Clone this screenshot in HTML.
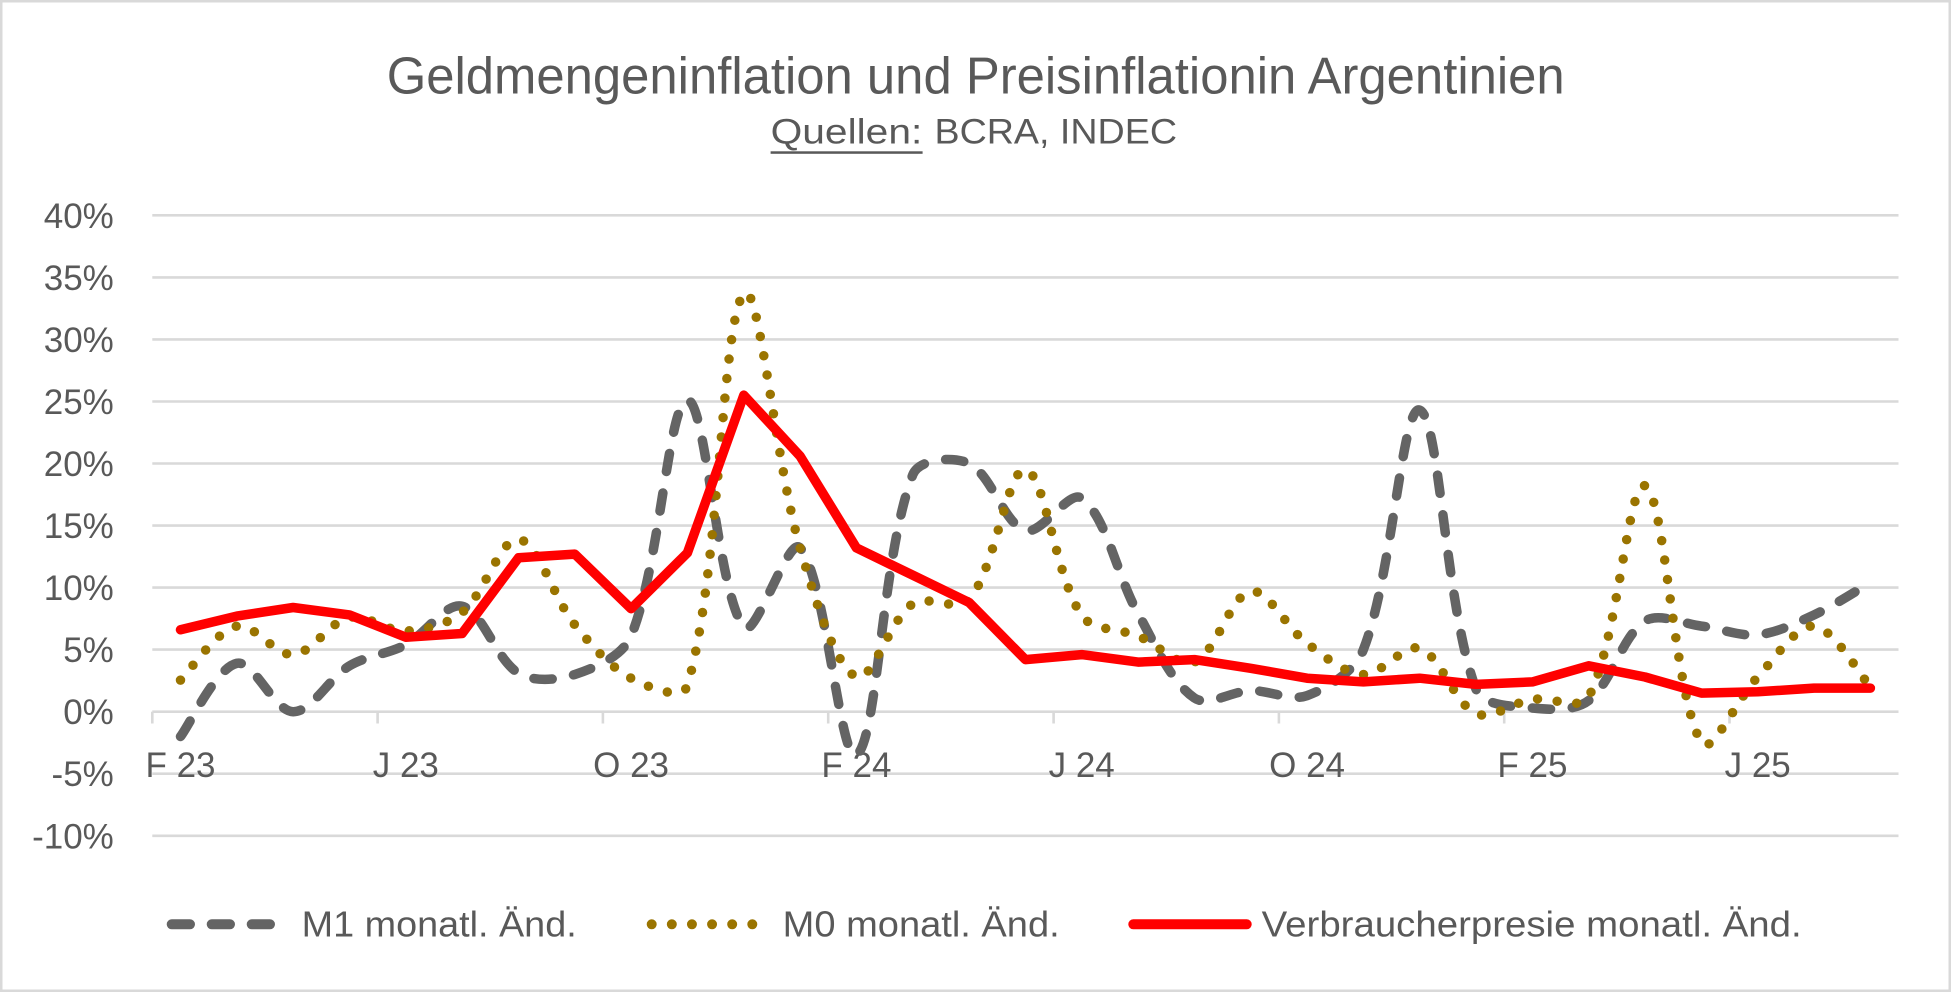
<!DOCTYPE html>
<html>
<head>
<meta charset="utf-8">
<style>
  html, body { margin: 0; padding: 0; background: #ffffff; }
  body { width: 1951px; height: 992px; overflow: hidden; }
  svg { display: block; }
  text { font-family: "Liberation Sans", Arial, sans-serif; fill: #595959; }
</style>
</head>
<body>
<svg width="1951" height="992" viewBox="0 0 1951 992" xmlns="http://www.w3.org/2000/svg">
  <rect x="0" y="0" width="1951" height="992" fill="#ffffff"/>
  <rect x="1.25" y="1.25" width="1948.5" height="989.5" fill="none" stroke="#d9d9d9" stroke-width="2.5"/>

  <!-- Title -->
  <text x="386.7" y="93.3" font-size="52" textLength="1178" lengthAdjust="spacingAndGlyphs">Geldmengeninflation und Preisinflationin Argentinien</text>
  <text x="770.6" y="143.3" font-size="35" textLength="151.7" lengthAdjust="spacingAndGlyphs">Quellen:</text>
  <rect x="770.6" y="151.3" width="152" height="2.5" fill="#595959"/>
  <text x="934.5" y="143.3" font-size="35" textLength="242.5" lengthAdjust="spacingAndGlyphs">BCRA, INDEC</text>

  <!-- Gridlines -->
  <g stroke="#d9d9d9" stroke-width="2.6">
    <line x1="152.3" y1="215.3" x2="1898.5" y2="215.3"/>
    <line x1="152.3" y1="277.4" x2="1898.5" y2="277.4"/>
    <line x1="152.3" y1="339.4" x2="1898.5" y2="339.4"/>
    <line x1="152.3" y1="401.5" x2="1898.5" y2="401.5"/>
    <line x1="152.3" y1="463.5" x2="1898.5" y2="463.5"/>
    <line x1="152.3" y1="525.6" x2="1898.5" y2="525.6"/>
    <line x1="152.3" y1="587.6" x2="1898.5" y2="587.6"/>
    <line x1="152.3" y1="649.6" x2="1898.5" y2="649.6"/>
    <line x1="152.3" y1="711.7" x2="1898.5" y2="711.7"/>
    <line x1="152.3" y1="773.7" x2="1898.5" y2="773.7"/>
    <line x1="152.3" y1="835.8" x2="1898.5" y2="835.8"/>
    <!-- ticks -->
    <line x1="152.3" y1="711.7" x2="152.3" y2="723.5"/>
    <line x1="377.6" y1="711.7" x2="377.6" y2="723.5"/>
    <line x1="602.9" y1="711.7" x2="602.9" y2="723.5"/>
    <line x1="828.2" y1="711.7" x2="828.2" y2="723.5"/>
    <line x1="1053.6" y1="711.7" x2="1053.6" y2="723.5"/>
    <line x1="1278.9" y1="711.7" x2="1278.9" y2="723.5"/>
    <line x1="1504.2" y1="711.7" x2="1504.2" y2="723.5"/>
    <line x1="1729.5" y1="711.7" x2="1729.5" y2="723.5"/>
  </g>

  <!-- Y axis labels -->
  <g font-size="35" text-anchor="end">
    <text x="113.8" y="227.8">40%</text>
    <text x="113.8" y="289.9">35%</text>
    <text x="113.8" y="351.9">30%</text>
    <text x="113.8" y="414.0">25%</text>
    <text x="113.8" y="476.0">20%</text>
    <text x="113.8" y="538.1">15%</text>
    <text x="113.8" y="600.1">10%</text>
    <text x="113.8" y="662.1">5%</text>
    <text x="113.8" y="724.2">0%</text>
    <text x="113.8" y="786.2">-5%</text>
    <text x="113.8" y="848.3">-10%</text>
  </g>

  <!-- X axis labels -->
  <g font-size="35" text-anchor="middle">
    <text x="180.5" y="777">F 23</text>
    <text x="405.8" y="777">J 23</text>
    <text x="631.1" y="777">O 23</text>
    <text x="856.4" y="777">F 24</text>
    <text x="1081.7" y="777">J 24</text>
    <text x="1307.1" y="777">O 24</text>
    <text x="1532.4" y="777">F 25</text>
    <text x="1757.7" y="777">J 25</text>
  </g>

  <!-- M1 dashed series -->
  <path fill="none" stroke="#646464" stroke-width="9.5" stroke-linecap="round" stroke-linejoin="round" stroke-dasharray="18.3 21.7"
    d="M180.5,736.5
C189.9,724.3 216.0,667.9 236.8,663.3
C253.5,659.6 274.1,711.3 293.1,711.7
C311.7,712.1 329.0,678.0 349.5,665.8
C366.5,655.7 388.2,654.0 405.8,644.7
C425.8,634.1 445.7,602.0 462.1,606.2
C483.2,611.6 495.7,659.4 518.5,673.2
C533.2,682.2 557.8,680.1 574.8,674.5
C595.4,667.7 622.8,656.1 631.1,636.0
C660.4,564.7 668.3,401.7 687.4,400.2
C705.8,398.8 717.3,592.6 743.8,627.3
C754.8,641.8 788.4,534.6 800.1,547.9
C825.9,577.2 840.3,765.6 856.4,755.1
C877.8,741.2 881.5,555.6 912.8,474.7
C919.1,458.4 954.2,456.1 969.1,463.5
C991.8,474.7 1003.8,523.9 1025.4,530.5
C1041.4,535.5 1069.1,488.9 1081.7,498.2
C1106.6,516.7 1117.1,576.4 1138.1,613.7
C1154.7,643.0 1170.3,681.6 1194.4,698.0
C1207.9,707.3 1231.9,691.0 1250.7,690.6
C1269.4,690.2 1290.7,701.5 1307.1,695.6
C1328.2,687.9 1354.8,671.3 1363.4,649.6
C1392.4,576.2 1402.3,404.0 1419.7,410.1
C1439.9,417.2 1445.0,607.2 1476.1,689.4
C1482.6,706.4 1513.2,706.1 1532.4,708.0
C1550.8,709.8 1574.9,711.2 1588.7,700.5
C1612.4,682.2 1621.3,636.8 1645.0,621.1
C1658.8,612.0 1682.7,623.8 1701.4,626.1
C1720.3,628.4 1739.4,636.6 1757.7,634.8
C1776.9,632.8 1796.0,623.2 1814.0,614.9
C1833.6,605.9 1861.0,588.0 1870.4,582.6"/>

  <!-- M0 dotted series -->
  <path fill="none" stroke="#9a7400" stroke-width="9.5" stroke-linecap="round" stroke-linejoin="round" stroke-dasharray="0 19.6"
    d="M180.5,680.1
C189.9,671.1 216.0,630.8 236.8,626.1
C253.6,622.3 275.0,656.0 293.1,654.6
C312.5,653.1 329.3,621.6 349.5,617.4
C366.8,613.7 387.3,631.9 405.8,631.0
C424.8,630.2 447.4,624.4 462.1,612.4
C485.0,593.8 500.7,537.2 518.5,539.2
C538.3,541.4 553.4,598.5 574.8,624.8
C591.0,644.8 609.4,666.5 631.1,678.2
C647.0,686.8 682.7,701.7 687.4,685.6
C720.3,573.4 721.2,321.2 743.8,293.5
C758.7,275.3 775.7,464.9 800.1,547.9
C813.3,592.7 833.7,665.7 856.4,677.0
C871.3,684.3 889.5,619.7 912.8,603.7
C927.0,594.0 958.4,612.7 969.1,600.0
C995.9,568.1 1007.5,467.2 1025.4,469.7
C1045.1,472.4 1054.6,575.4 1081.7,615.5
C1092.1,630.9 1119.7,628.4 1138.1,636.0
C1157.2,643.9 1179.1,668.1 1194.4,662.1
C1216.7,653.2 1230.4,594.7 1250.7,591.3
C1267.9,588.5 1286.7,628.4 1307.1,643.4
C1324.2,656.1 1344.3,673.6 1363.4,674.5
C1381.8,675.3 1404.0,642.9 1419.7,648.4
C1441.5,656.0 1453.7,703.4 1476.1,713.6
C1491.2,720.4 1513.4,702.1 1532.4,699.3
C1550.9,696.5 1581.0,711.4 1588.7,696.8
C1618.6,640.2 1628.0,478.9 1645.0,485.8
C1665.5,494.2 1673.2,694.8 1701.4,742.7
C1710.7,758.5 1737.7,697.7 1757.7,677.0
C1775.2,658.8 1796.1,624.5 1814.0,626.1
C1833.6,627.8 1861.0,676.7 1870.4,686.9"/>

  <!-- CPI red series -->
  <polyline fill="none" stroke="#ff0000" stroke-width="9.5" stroke-linecap="round" stroke-linejoin="round"
    points="180.5,629.8 236.8,616.1 293.1,607.5 349.5,614.9 405.8,637.2 462.1,633.5 518.5,557.8 574.8,554.1 631.1,608.7 687.4,552.9 743.8,395.2 800.1,456.1 856.4,547.9 912.8,575.2 969.1,602.5 1025.4,659.6 1081.7,654.6 1138.1,662.1 1194.4,659.6 1250.7,668.3 1307.1,678.2 1363.4,681.9 1419.7,678.2 1476.1,684.4 1532.4,681.9 1588.7,665.8 1645.0,677.0 1701.4,693.1 1757.7,691.8 1814.0,688.1 1870.4,688.1"/>

  <!-- Legend -->
  <line x1="171.7" y1="924.3" x2="270" y2="924.3" stroke="#646464" stroke-width="10" stroke-linecap="round" stroke-dasharray="18.3 21.7"/>
  <text x="301.7" y="936.7" font-size="36" textLength="275" lengthAdjust="spacingAndGlyphs">M1 monatl. Änd.</text>

  <line x1="651.7" y1="924.3" x2="752.8" y2="924.3" stroke="#9a7400" stroke-width="10" stroke-linecap="round" stroke-dasharray="0 20.12"/>
  <text x="782.7" y="936.7" font-size="36" textLength="277" lengthAdjust="spacingAndGlyphs">M0 monatl. Änd.</text>

  <line x1="1133.3" y1="924.3" x2="1246.7" y2="924.3" stroke="#ff0000" stroke-width="10" stroke-linecap="round"/>
  <text x="1261.7" y="936.7" font-size="36" textLength="540" lengthAdjust="spacingAndGlyphs">Verbraucherpresie monatl. Änd.</text>
</svg>
</body>
</html>
